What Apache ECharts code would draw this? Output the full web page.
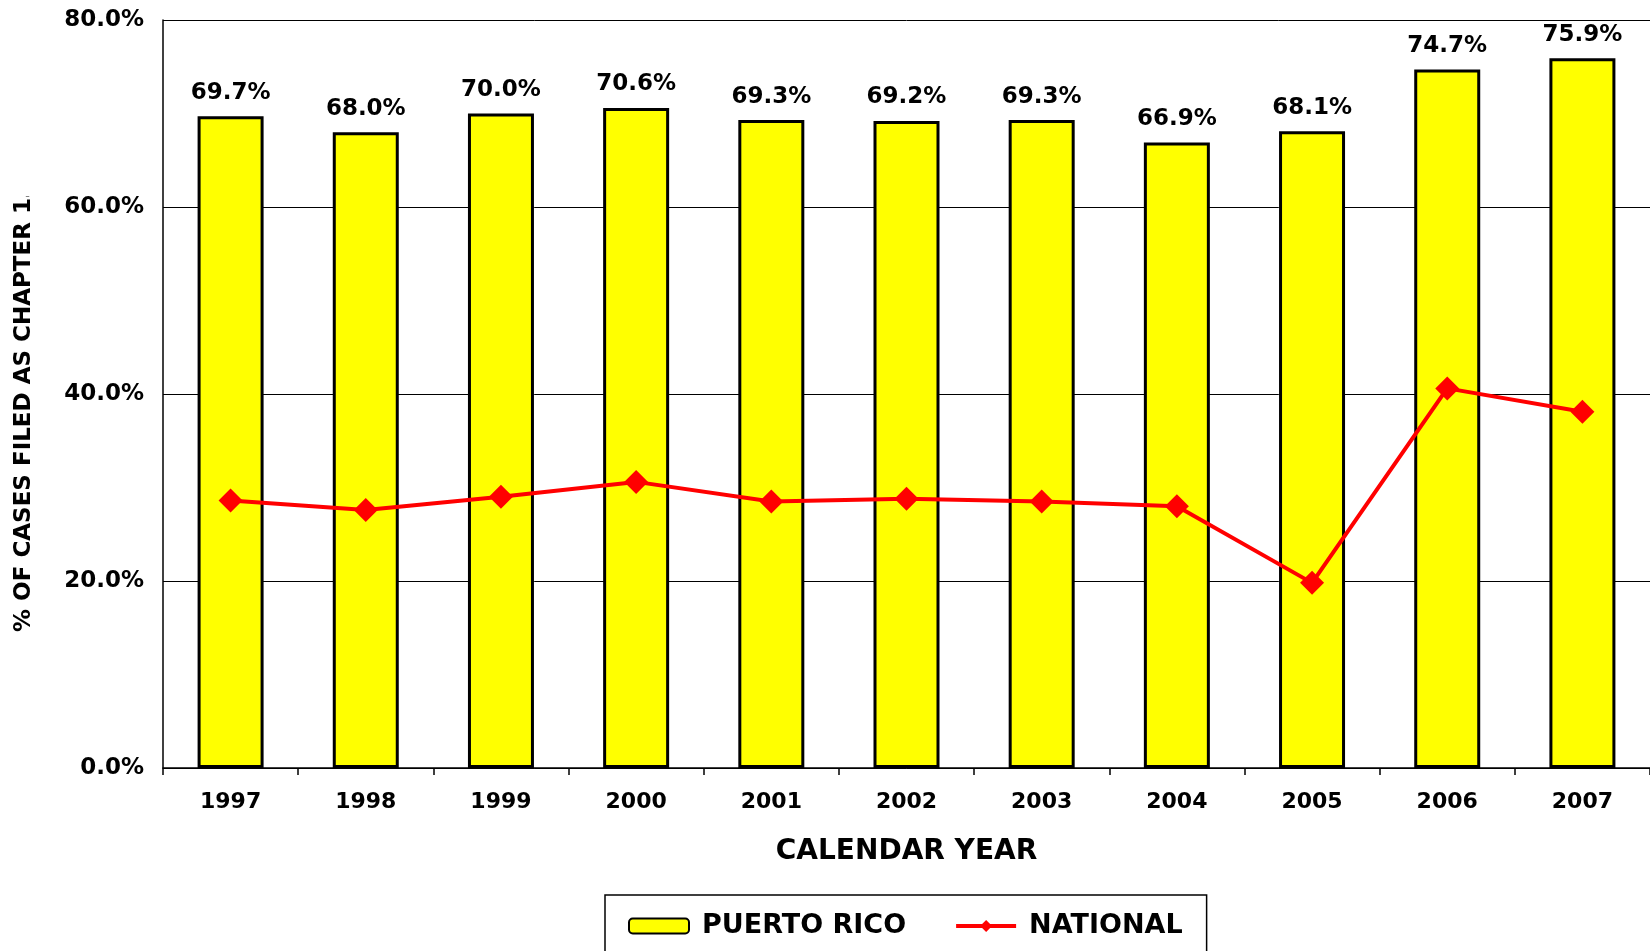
<!DOCTYPE html>
<html>
<head>
<meta charset="utf-8">
<title>Chapter 13 filings</title>
<script src="https://cdn.jsdelivr.net/npm/echarts@6/dist/echarts.min.js"></script>
<style>
    html, body { margin: 0; padding: 0; background: #fff; }
    #chart { width: 1650px; height: 951px; }
</style>
</head>
<body>
<div id="chart"></div>
<script>
/**
 * 
 * data
 * 
 */
const years = ['1997', '1998', '1999', '2000', '2001', '2002', '2003', '2004', '2005', '2006', '2007'];
const puertoRico = [69.7, 68.0, 70.0, 70.6, 69.3, 69.2, 69.3, 66.9, 68.1, 74.7, 75.9];
const national = [28.6, 27.6, 29.0, 30.6, 28.5, 28.8, 28.5, 28.0, 19.8, 40.6, 38.1];
const yTicks = { min: 0, max: 80, interval: 20 };

const font = 'DejaVu Sans';
const pct = v => Number(v).toFixed(1) + '%';

/**
 * 
 * chart
 * 
 */
const chartOption = {
    animation: false,
    backgroundColor: '#fff',
    textStyle: {
        fontFamily: font,
        fontWeight: 'bold',
        color: '#000'
    },
    grid: {
        left: 163,
        right: 0,
        top: 20,
        bottom: 183
    },
    legend: {
        left: 605,
        top: 895,
        padding: [16, 24, 16, 23],
        borderColor: '#000',
        borderWidth: 1.5,
        itemGap: 48,
        itemWidth: 60,
        itemHeight: 15,
        lineStyle: { width: 4 },
        textStyle: {
            fontFamily: font,
            fontWeight: 'bold',
            fontSize: 27,
            lineHeight: 30,
            color: '#000',
            padding: [0, 0, 0, 8]
        },
        data: ['PUERTO RICO', 'NATIONAL']
    },
    xAxis: {
        type: 'category',
        data: years,
        name: 'CALENDAR YEAR',
        nameLocation: 'middle',
        nameGap: 70,
        nameTextStyle: {
            fontFamily: font,
            fontWeight: 'bold',
            fontSize: 28,
            color: '#000'
        },
        axisLine: {
            lineStyle: { color: '#000', width: 1.5 }
        },
        axisTick: {
            show: true,
            length: 7,
            lineStyle: { color: '#000', width: 1.5 }
        },
        axisLabel: {
            margin: 23,
            fontFamily: font,
            fontWeight: 'bold',
            fontSize: 22,
            color: '#000'
        }
    },
    yAxis: {
        type: 'value',
        min: yTicks.min,
        max: yTicks.max,
        interval: yTicks.interval,
        axisLine: {
            show: true,
            lineStyle: { color: '#000', width: 1.5 }
        },
        axisTick: { show: false },
        axisLabel: {
            margin: 19,
            fontFamily: font,
            fontWeight: 'bold',
            fontSize: 23,
            color: '#000',
            formatter: pct
        },
        splitLine: {
            lineStyle: { color: '#000', width: 1 }
        }
    },
    series: [
        {
            name: 'PUERTO RICO',
            type: 'bar',
            barWidth: 66,
            data: puertoRico,
            itemStyle: {
                color: '#ffff00',
                borderColor: '#000',
                borderWidth: 3
            },
            label: {
                show: true,
                position: 'top',
                distance: 12,
                fontFamily: font,
                fontWeight: 'bold',
                fontSize: 23,
                color: '#000',
                formatter: p => pct(p.value)
            }
        },
        {
            name: 'NATIONAL',
            type: 'line',
            data: national,
            symbol: 'diamond',
            symbolSize: 24,
            lineStyle: { color: '#ff0000', width: 4 },
            itemStyle: { color: '#ff0000' }
        }
    ],
    graphic: [
        {
            // y axis title, runs off the top like the original
            type: 'text',
            x: 24,
            y: 407,
            rotation: Math.PI / 2,
            z: 50,
            style: {
                text: '% OF CASES FILED AS CHAPTER 13',
                fontFamily: font,
                fontWeight: 'bold',
                fontSize: 23,
                fill: '#000',
                align: 'center',
                verticalAlign: 'middle'
            }
        },
        {
            type: 'rect',
            z: 100,
            shape: { x: 0, y: 0, width: 48, height: 196 },
            style: { fill: '#fff' }
        }
    ]
};

const chart = echarts.init(document.getElementById('chart'));
chart.setOption(chartOption);
</script>
</body>
</html>
